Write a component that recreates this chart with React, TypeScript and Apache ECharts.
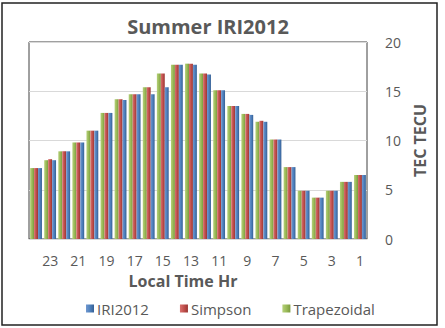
import React, { useEffect, useRef } from "react";
import * as echarts from "echarts";

const categories = ["24","23","22","21","20","19","18","17","16","15","14","13","12","11","10","9","8","7","6","5","4","3","2","1"];
const iri2012 = [7.2, 8.0, 8.9, 9.8, 11.0, 12.8, 14.1, 14.7, 14.7, 15.4, 17.7, 17.7, 16.7, 15.1, 13.5, 12.6, 11.9, 10.1, 7.3, 4.9, 4.2, 4.9, 5.8, 6.5];
const simpson = [7.2, 8.1, 8.9, 9.8, 11.0, 12.8, 14.2, 14.7, 15.4, 16.8, 17.7, 17.8, 16.8, 15.1, 13.5, 12.7, 12.0, 10.1, 7.3, 4.9, 4.2, 4.9, 5.8, 6.5];
const trapezoidal = [7.2, 8.0, 8.9, 9.8, 11.0, 12.8, 14.2, 14.7, 15.4, 16.8, 17.7, 17.8, 16.8, 15.1, 13.5, 12.7, 11.9, 10.1, 7.3, 4.9, 4.2, 4.9, 5.8, 6.5];
const yTicks = { min: 0, max: 20, interval: 5 };

const FONT = "Open Sans";
const TXT = "#595959";

function grad(light: string, mid: string, dark: string) {
  return new echarts.graphic.LinearGradient(0, 0, 1, 0, [
    { offset: 0, color: light },
    { offset: 0.5, color: mid },
    { offset: 1, color: dark },
  ]);
}

export default function App() {
  const ref = useRef<HTMLDivElement>(null);
  useEffect(() => {
    if (!ref.current) return;
    const chart = echarts.init(ref.current, undefined, { renderer: "svg" });
    const blue = "#4F81BD";
    const red = "#C0504D";
    const green = "#9BBB59";
    chart.setOption({
      animation: false,
      textStyle: { fontFamily: FONT },
      title: {
        text: "Summer IRI2012",
        left: 203,
        textAlign: "center",
        top: 11,
        textStyle: { fontFamily: FONT, fontSize: 20, fontWeight: "bold", color: TXT },
      },
      graphic: [
        {
          type: "rect",
          shape: { x: 2, y: 3, width: 435, height: 322 },
          style: { fill: "none", stroke: "#222", lineWidth: 1.5 },
          silent: true,
        },
      ],
      legend: {
        data: ["IRI2012", "Simpson", "Trapezoidal"],
        left: 81,
        top: 296,
        itemWidth: 8,
        itemHeight: 8,
        itemGap: 31,
        icon: "rect",
        textStyle: { fontFamily: FONT, fontSize: 15, color: TXT, padding: [0, 0, 0, -2] },
      },
      grid: {
        left: 29,
        right: 78,
        top: 42,
        bottom: 89,
        show: true,
        borderColor: "#404040",
        borderWidth: 1,
        backgroundColor: "transparent",
      },
      xAxis: {
        type: "category",
        data: categories,
        name: "Local Time Hr",
        nameLocation: "middle",
        nameGap: 34,
        nameTextStyle: { fontFamily: FONT, fontSize: 16, fontWeight: "bold", color: TXT, padding: [0, 30, 0, 0] },
        axisTick: { show: false },
        axisLine: { show: true, lineStyle: { color: "#D9D9D9" } },
        axisLabel: {
          interval: (_i: number, v: string) => Number(v) % 2 === 1,
          fontFamily: FONT,
          fontSize: 14,
          color: TXT,
          margin: 14,
        },
      },
      yAxis: {
        type: "value",
        position: "right",
        min: yTicks.min,
        max: yTicks.max,
        interval: yTicks.interval,
        name: "TEC TECU",
        nameLocation: "middle",
        nameRotate: 90,
        nameGap: 44,
        nameTextStyle: { fontFamily: FONT, fontSize: 16, fontWeight: "bold", color: TXT },
        axisLine: { show: false },
        axisTick: { show: false },
        splitLine: { lineStyle: { color: "#D9D9D9" } },
        axisLabel: { fontFamily: FONT, fontSize: 14, color: TXT, margin: 18 },
      },
      series: [
        {
          name: "Trapezoidal",
          type: "bar",
          data: trapezoidal,
          barGap: "0%",
          barCategoryGap: "16%",
          itemStyle: { color: grad("#B5D07A", green, "#7A9A3E") },
        },
        {
          name: "Simpson",
          type: "bar",
          data: simpson,
          barGap: "0%",
          barCategoryGap: "16%",
          itemStyle: { color: grad("#D9706D", red, "#9A3532") },
        },
        {
          name: "IRI2012",
          type: "bar",
          data: iri2012,
          barGap: "0%",
          barCategoryGap: "16%",
          itemStyle: { color: grad("#7097CF", blue, "#355F94") },
        },
      ],
    });
    return () => chart.dispose();
  }, []);
  return (
    <div
      ref={ref}
      style={{ position: "fixed", left: 0, top: 0, width: 445, height: 328, background: "#fff" }}
    />
  );
}
